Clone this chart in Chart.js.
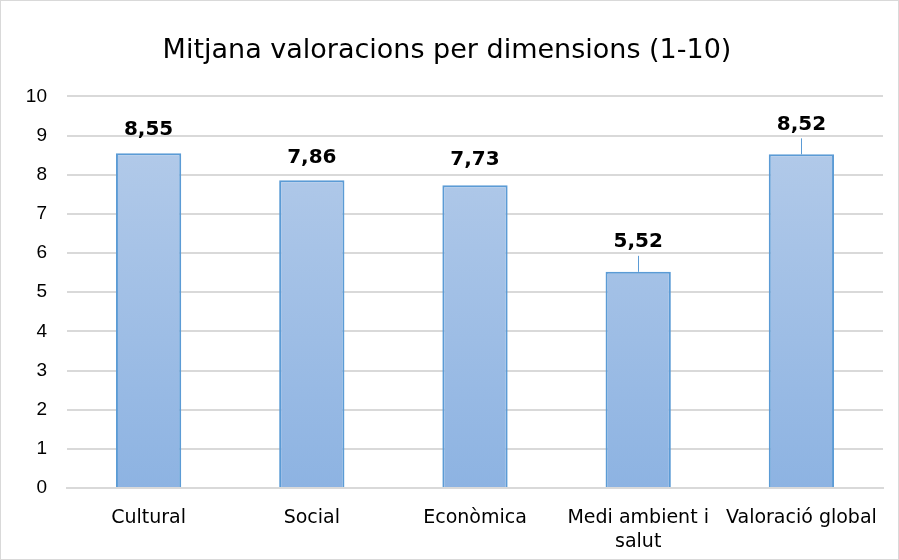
<!DOCTYPE html>
<html>
<head>
<meta charset="utf-8">
<script src="https://cdn.jsdelivr.net/npm/chart.js@4.4.0/dist/chart.umd.min.js"></script>
<style>
  html, body { margin: 0; padding: 0; background: #fff; }
  #wrap { width: 897px; height: 558px; border: 1px solid #d9d9d9; position: relative; }
</style>
</head>
<body>
<div id="wrap"><canvas id="mitjanaChart" width="897" height="558"></canvas></div>
<script>
const categories = ['Cultural', 'Social', 'Econòmica', ['Medi ambient i', 'salut'], 'Valoració global'];
const values = [8.55, 7.86, 7.73, 5.52, 8.52];
const yTicks = [0, 1, 2, 3, 4, 5, 6, 7, 8, 9, 10];

const labelLift = [23, 22, 25, 30, 30];

function barFill(context) {
    const area = context.chart.chartArea;
    if (!area) return '#a5c2e6';
    const g = context.chart.ctx.createLinearGradient(0, area.top, 0, area.bottom);
    g.addColorStop(0, '#b7cdea');
    g.addColorStop(1, '#8db3e2');
    return g;
}

const barLabels = {
    id: 'barLabels',
    afterDatasetsDraw(chart) {
        const { ctx } = chart;
        const meta = chart.getDatasetMeta(0);
        ctx.save();
        ctx.font = 'bold 20px "DejaVu Sans"';
        ctx.fillStyle = '#000';
        ctx.textAlign = 'center';
        ctx.textBaseline = 'middle';
        meta.data.forEach((bar, i) => {
            const lift = labelLift[i];
            const ly = bar.y - lift;
            ctx.fillText(values[i].toFixed(2).replace('.', ','), bar.x, ly);
            if (lift >= 30) {
                ctx.strokeStyle = '#5b9bd5';
                ctx.lineWidth = 1;
                ctx.beginPath();
                ctx.moveTo(Math.round(bar.x) + 0.5, ly + 14);
                ctx.lineTo(Math.round(bar.x) + 0.5, bar.y);
                ctx.stroke();
            }
        });
        ctx.restore();
    }
};

new Chart(document.getElementById('mitjanaChart'), {
    type: 'bar',
    data: {
        labels: categories,
        datasets: [{
            data: values,
            backgroundColor: barFill,
            borderColor: '#5b9bd5',
            borderWidth: 2,
            categoryPercentage: 1,
            barPercentage: 0.4
        }]
    },
    options: {
        responsive: false,
        animation: false,
        layout: { padding: { left: 10, right: 15, top: 30, bottom: 0 } },
        plugins: {
            legend: { display: false },
            tooltip: { enabled: false },
            title: {
                display: true,
                text: 'Mitjana valoracions per dimensions (1-10)',
                color: '#000',
                font: { family: 'DejaVu Sans', size: 27, weight: 'normal' },
                padding: { top: 4, bottom: 29 }
            }
        },
        scales: {
            y: {
                min: 0,
                max: 10,
                afterBuildTicks(axis) { axis.ticks = yTicks.map(v => ({ value: v })); },
                afterFit(axis) { axis.width = 56; },
                grid: { color: '#d9d9d9', lineWidth: 2, drawTicks: false },
                border: { display: false },
                ticks: {
                    color: '#000',
                    padding: 20,
                    font: { family: 'Liberation Sans', size: 19 }
                }
            },
            x: {
                afterFit(axis) { axis.height = 71; },
                grid: { display: false },
                border: { color: '#d9d9d9', width: 2 },
                ticks: {
                    color: '#000',
                    padding: 10,
                    maxRotation: 0,
                    font: { family: 'DejaVu Sans', size: 19, lineHeight: 1.25 }
                }
            }
        }
    },
    plugins: [barLabels]
});
</script>
</body>
</html>
